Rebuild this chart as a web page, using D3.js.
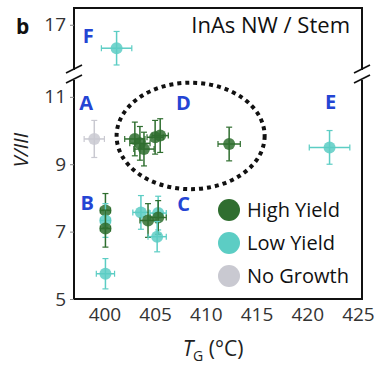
<!DOCTYPE html>
<html>
<head>
<meta charset="utf-8">
<script src="https://cdn.jsdelivr.net/npm/d3@7"></script>
<style>
body { margin: 0; background: #fff; }
text { font-family: "Open Sans", "Noto Sans", sans-serif; }
</style>
</head>
<body>
<script>
// data: growth temperature, V/III ratio, error bars, yield class
var tg    = [399.0, 403.0, 403.5, 403.9, 405.0, 405.5, 412.3, 422.2, 401.2, 400.1, 400.1, 400.1, 400.1, 403.6, 404.3, 405.3, 405.3, 405.2];
var v3    = [9.75,  9.75,  9.62,  9.45,  9.8,   9.85,  9.6,   9.5,   16.3,  7.63,  7.33,  7.09,  5.75,  7.57,  7.33,  7.55,  7.42,  6.85];
var tgErr = [1.0,   1.0,   1.0,   1.0,   0.8,   0.8,   1.1,   2.0,   1.5,   0.5,   0.5,   0.5,   0.9,   0.8,   0.8,   0.8,   0.8,   0.9];
var v3Err = [0.55,  0.5,   0.5,   0.5,   0.5,   0.5,   0.5,   0.5,   0.5,   0.5,   0.5,   0.55,  0.45,  0.5,   0.5,   0.5,   0.5,   0.45];
var yieldCls = ["none","high","high","high","high","high","high","low","low","high","low","high","low","low","high","low","high","low"];

var legendNames = ["High Yield", "Low Yield", "No Growth"];
var legendKeys  = ["high", "low", "none"];
var xTicks = [400, 405, 410, 415, 420, 425];
var yTicksLow = [5, 7, 9, 11];
var yTicksHigh = [17];

var pointLabels = ["A", "B", "C", "D", "E", "F"];
var labelX = [398.2, 398.3, 407.8, 407.8, 422.3, 398.4];
var labelY = [10.6, 7.65, 7.6, 10.6, 10.65, 16.45];

var colors = {high: "#2f6e2f", low: "#5ccdc4", none: "#c9c9d1"};

var W = 377, H = 365;
var plotL = 74, plotR = 362, plotT = 8, plotB = 299;
var breakTop = 70, breakBot = 80;

var svg = d3.select("body").append("svg")
    .attr("width", W).attr("height", H);

var x = d3.scaleLinear().domain([397.0, 425.4]).range([plotL, plotR]);
var yLow = d3.scaleLinear().domain([5, 11.5]).range([plotB, breakBot]);
var yHigh = d3.scaleLinear().domain([15.65, 17.5]).range([breakTop, plotT]);
var y = function(v) { return v > 13 ? yHigh(v) : yLow(v); };

// dotted ellipse round the high-yield cluster
svg.append("ellipse")
    .attr("cx", x(408.5)).attr("cy", yLow(9.84))
    .attr("rx", x(408.5 + 7.3) - x(408.5))
    .attr("ry", yLow(9.84) - yLow(9.84 + 1.58))
    .attr("fill", "none")
    .attr("stroke", "#111")
    .attr("stroke-width", 4)
    .attr("stroke-dasharray", "4,4");

// error bars
var pts = svg.append("g").selectAll("g").data(tg).join("g");
pts.append("line")
    .attr("x1", function(d, i) { return x(d - tgErr[i]); })
    .attr("x2", function(d, i) { return x(d + tgErr[i]); })
    .attr("y1", function(d, i) { return y(v3[i]); })
    .attr("y2", function(d, i) { return y(v3[i]); })
    .attr("stroke", function(d, i) { return colors[yieldCls[i]]; })
    .attr("stroke-width", 1.5);
pts.append("line")
    .attr("x1", function(d) { return x(d); })
    .attr("x2", function(d) { return x(d); })
    .attr("y1", function(d, i) { return y(v3[i] - v3Err[i]); })
    .attr("y2", function(d, i) { return y(v3[i] + v3Err[i]); })
    .attr("stroke", function(d, i) { return colors[yieldCls[i]]; })
    .attr("stroke-width", 1.5);
pts.each(function(d, i) {
  var g = d3.select(this), c = colors[yieldCls[i]];
  [x(d - tgErr[i]), x(d + tgErr[i])].forEach(function(px) {
    g.append("line").attr("x1", px).attr("x2", px)
      .attr("y1", y(v3[i]) - 3).attr("y2", y(v3[i]) + 3)
      .attr("stroke", c).attr("stroke-width", 1.2);
  });
  [y(v3[i] - v3Err[i]), y(v3[i] + v3Err[i])].forEach(function(py) {
    g.append("line").attr("x1", x(d) - 3).attr("x2", x(d) + 3)
      .attr("y1", py).attr("y2", py)
      .attr("stroke", c).attr("stroke-width", 1.2);
  });
});
pts.append("circle")
    .attr("cx", function(d) { return x(d); })
    .attr("cy", function(d, i) { return y(v3[i]); })
    .attr("r", 6)
    .attr("fill", function(d, i) { return colors[yieldCls[i]]; })
    .attr("fill-opacity", 0.85);

// frame with broken y axis
var frame = svg.append("g").attr("stroke", "#111").attr("stroke-width", 2).attr("fill", "none");
frame.append("path").attr("d",
  "M" + plotL + "," + breakTop + "V" + plotT + "H" + plotR + "V" + breakTop);
frame.append("path").attr("d",
  "M" + plotL + "," + breakBot + "V" + plotB + "H" + plotR + "V" + breakBot);
[plotL, plotR].forEach(function(px) {
  [breakTop - 1, breakBot - 1].forEach(function(py) {
    frame.append("line")
      .attr("x1", px - 8).attr("y1", py + 4)
      .attr("x2", px + 8).attr("y2", py - 4)
      .attr("stroke-width", 1.8);
  });
});

// axes
var axX = svg.append("g").attr("transform", "translate(0," + plotB + ")")
    .call(d3.axisBottom(x).tickValues(xTicks).tickSize(0).tickPadding(9));
var axL = svg.append("g").attr("transform", "translate(" + plotL + ",0)")
    .call(d3.axisLeft(yLow).tickValues(yTicksLow).tickFormat(d3.format("d")).tickSize(4).tickPadding(4));
var axH = svg.append("g").attr("transform", "translate(" + plotL + ",0)")
    .call(d3.axisLeft(yHigh).tickValues(yTicksHigh).tickFormat(d3.format("d")).tickSize(4).tickPadding(4));
[axX, axL, axH].forEach(function(a) {
  a.select(".domain").remove();
  a.selectAll("text").attr("font-size", 19).attr("fill", "#333")
    .attr("font-family", "'Open Sans', sans-serif");
  a.selectAll(".tick line").attr("stroke", "#888");
});

// point group letters
svg.append("g").selectAll("text").data(pointLabels).join("text")
    .attr("x", function(d, i) { return x(labelX[i]); })
    .attr("y", function(d, i) { return y(labelY[i]); })
    .attr("text-anchor", "middle")
    .attr("font-size", 20).attr("font-weight", "bold")
    .attr("fill", "#2445d4")
    .text(function(d) { return d; });

// legend
var leg = svg.append("g").selectAll("g").data(legendNames).join("g")
    .attr("transform", function(d, i) { return "translate(229," + (210 + i * 33) + ")"; });
leg.append("circle").attr("r", 11)
    .attr("fill", function(d, i) { return colors[legendKeys[i]]; });
leg.append("text").attr("x", 18).attr("y", 7)
    .attr("font-size", 20).attr("fill", "#111")
    .text(function(d) { return d; });

// titles
svg.append("text").attr("x", 350).attr("y", 33).attr("text-anchor", "end")
    .attr("font-size", 22).attr("fill", "#111").text("InAs NW / Stem");
svg.append("text").attr("x", 16).attr("y", 34)
    .attr("font-size", 21).attr("font-weight", "bold").attr("fill", "#111").text("b");
svg.append("text").attr("transform", "translate(28,150) rotate(-90)")
    .attr("text-anchor", "middle").attr("font-size", 20).attr("font-style", "italic")
    .attr("fill", "#222").text("V/III");
var xl = svg.append("text").attr("x", 213).attr("y", 356).attr("text-anchor", "middle")
    .attr("font-size", 21).attr("fill", "#222");
xl.append("tspan").attr("font-style", "italic").text("T");
xl.append("tspan").attr("font-size", 14).attr("dy", 5).text("G");
xl.append("tspan").attr("dy", -5).text(" (°C)");
</script>
</body>
</html>
